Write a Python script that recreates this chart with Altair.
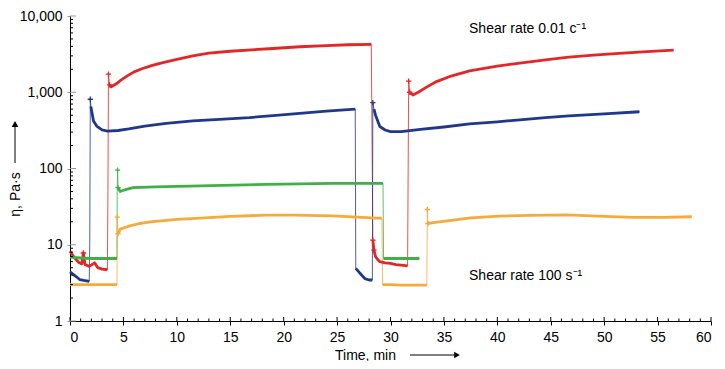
import altair as alt
import pandas as pd

# ---------------- data ----------------
# red series
red_low1_t = [0, 0.4, 0.8, 1.1, 1.25, 1.4, 1.8, 2.3, 2.6, 3.0, 3.5]
red_low1_v = [8.2, 6.8, 5.9, 5.6, 7.8, 5.5, 5.2, 5.8, 5.0, 4.8, 4.7]
red_jump1_t = [3.55, 3.6]
red_jump1_v = [50, 1730]
red_high1_t = [3.7, 3.85, 4.3, 4.8, 5.4, 6, 6.8, 7.7, 8.7, 10, 11.5, 13, 15, 17, 19, 21.5, 24, 26, 28.2]
red_high1_v = [1250, 1180, 1280, 1450, 1650, 1850, 2050, 2250, 2450, 2700, 3000, 3250, 3450, 3600, 3750, 3950, 4100, 4200, 4250]
red_low2_t = [28.35, 28.45, 28.6, 28.8, 29, 29.5, 30, 30.5, 31, 31.6]
red_low2_v = [11.5, 8.5, 7.0, 6.4, 6.0, 5.8, 5.7, 5.5, 5.4, 5.3]
red_jump2_t = [31.7]
red_jump2_v = [1400]
red_high2_t = [31.8, 32.1, 32.6, 33.3, 34.3, 35.5, 37.4, 40, 42.1, 44.5, 46.7, 49, 51.4, 54, 56.5]
red_high2_v = [1000, 920, 1000, 1150, 1380, 1600, 1910, 2200, 2410, 2650, 2880, 3060, 3240, 3420, 3570]

# blue series
blue_low1_t = [0, 0.3, 0.6, 0.9, 1.3, 1.8]
blue_low1_v = [4.4, 4.1, 3.8, 3.5, 3.4, 3.3]
blue_jump1_t = [1.85, 1.9]
blue_jump1_v = [10, 810]
blue_high1_t = [1.95, 2.2, 2.5, 3.0, 3.5, 4.5, 5.5, 7, 9, 11.5, 14, 16.8, 19, 21.5, 24, 26.7]
blue_high1_v = [650, 420, 360, 320, 310, 315, 330, 360, 390, 420, 440, 465, 495, 530, 565, 600]
blue_low2_t = [26.75, 27.1, 27.6, 28.0, 28.3]
blue_low2_v = [4.9, 4.3, 3.6, 3.45, 3.45]
blue_jump2_t = [28.35]
blue_jump2_v = [730]
blue_high2_t = [28.45, 28.6, 29, 29.5, 30, 31, 32.8, 35, 37.4, 40, 42.1, 44.5, 46.7, 50, 53.3]
blue_high2_v = [600, 500, 355, 320, 305, 305, 325, 350, 385, 410, 435, 465, 490, 520, 555]

# green series
green_low1_t = [0, 1, 2, 3, 4.4]
green_low1_v = [6.9, 6.7, 6.6, 6.6, 6.6]
green_jump1_t = [4.42, 4.45]
green_jump1_v = [50, 95]
green_high1_t = [4.5, 4.7, 5.2, 5.9, 8, 12.2, 18.4, 24.6, 29.3]
green_high1_v = [56, 50, 53, 56, 57.5, 59, 62, 64, 64]
green_low2_t = [29.35, 30, 31, 32, 32.7]
green_low2_v = [6.6, 6.6, 6.6, 6.6, 6.6]

# orange series
orange_low1_t = [0, 1, 2, 3, 4.4]
orange_low1_v = [3.0, 3.0, 3.0, 3.0, 3.0]
orange_jump1_t = [4.42]
orange_jump1_v = [23]
orange_high1_t = [4.5, 4.7, 5.5, 6.5, 7.5, 10, 12.2, 15, 18.4, 21, 24.6, 28.7, 29.2]
orange_high1_v = [14, 16, 17.5, 19, 20, 21.5, 22.3, 23.5, 24.5, 24.5, 23.9, 22.3, 22.3]
orange_low2_t = [29.25, 30, 31, 32, 33.4]
orange_low2_v = [3.0, 3.0, 2.95, 2.95, 2.95]
orange_jump2_t = [33.45]
orange_jump2_v = [29]
orange_high2_t = [33.5, 34, 35.5, 37.5, 40.2, 43, 46.5, 50, 52.7, 55.5, 58.2]
orange_high2_v = [19, 19.5, 20.7, 22.5, 23.8, 24.3, 24.6, 23.6, 22.9, 22.8, 23.3]

# "+" markers at the jump points
mark_t = [1.25, 3.6, 3.7, 1.9, 4.45, 4.5, 4.42, 4.5, 28.35, 28.35, 28.45, 31.7, 31.8, 33.45, 33.5]
mark_v = [7.8, 1730, 1250, 810, 95, 56, 23, 14, 730, 11.5, 8.5, 1400, 1000, 29, 19]
mark_s = ["red", "red", "red", "blue", "green", "green", "orange", "orange",
          "blue", "red", "red", "red", "red", "orange", "orange"]

notes_t = [37.35, 37.35]
notes_v = [6760, 3.89]
notes_text = ["Shear rate 0.01 c⁻¹", "Shear rate 100 s⁻¹"]

x_major = list(range(0, 61, 5))
x_minor = [i for i in range(61) if i % 5]
y_major = [1, 10, 100, 1000, 10000]
y_minor = [d * k for d in [1, 10, 100, 1000] for k in range(2, 10)]

series_names = ["red", "blue", "green", "orange"]
series_colors = ["#e32626", "#20388c", "#3eb048", "#f7aa3c"]

pieces = {
    "red": [(red_low1_t, red_low1_v, True), (red_jump1_t, red_jump1_v, False),
            (red_high1_t, red_high1_v, True), (red_low2_t, red_low2_v, True),
            (red_jump2_t, red_jump2_v, False), (red_high2_t, red_high2_v, True)],
    "blue": [(blue_low1_t, blue_low1_v, True), (blue_jump1_t, blue_jump1_v, False),
             (blue_high1_t, blue_high1_v, True), (blue_low2_t, blue_low2_v, True),
             (blue_jump2_t, blue_jump2_v, False), (blue_high2_t, blue_high2_v, True)],
    "green": [(green_low1_t, green_low1_v, True), (green_jump1_t, green_jump1_v, False),
              (green_high1_t, green_high1_v, True), (green_low2_t, green_low2_v, True)],
    "orange": [(orange_low1_t, orange_low1_v, True), (orange_jump1_t, orange_jump1_v, False),
               (orange_high1_t, orange_high1_v, True), (orange_low2_t, orange_low2_v, True),
               (orange_jump2_t, orange_jump2_v, False), (orange_high2_t, orange_high2_v, True)],
}

rows = []
idx = 0
for name in series_names:
    for k, (ts, vs, thick) in enumerate(pieces[name]):
        for t, v in zip(ts, vs):
            rows.append(dict(series=name, seg=f"{name}{k}", thick=thick, t=t, v=v, idx=idx))
            idx += 1
df = pd.DataFrame(rows)
df_thick = df[df.thick]
df_marks = pd.DataFrame(dict(t=mark_t, v=mark_v, series=mark_s))
df_notes = pd.DataFrame(dict(t=notes_t, v=notes_v, text=notes_text))

# ---------------- chart ----------------
W, H = 641, 305
FONT = "Liberation Sans"
xs = alt.Scale(domain=[0, 60], nice=False, zero=False)
ys = alt.Scale(type="log", domain=[1, 10000], nice=False)
cs = alt.Scale(domain=series_names, range=series_colors)

x_axis = alt.Axis(values=x_major, format="d", title="Time, min", grid=False,
                  tickSize=4, tickColor="black", domainColor="black",
                  labelFont=FONT, labelFontSize=14, labelColor="black", labelPadding=5,
                  titleFont=FONT, titleFontSize=14, titleFontWeight="normal", titleColor="black",
                  titleX=295, titleY=34, titleAlign="center", titleBaseline="middle")
y_axis = alt.Axis(values=y_major, format=",", title="η, Pa·s", grid=False,
                  tickSize=3, tickColor="#999999", domainColor="black",
                  labelFont=FONT, labelFontSize=14, labelColor="black", labelPadding=5,
                  titleFont=FONT, titleFontSize=14, titleFontWeight="normal", titleColor="black",
                  titleX=-55, titleY=178, titleAngle=-90, titleAlign="center", titleBaseline="middle")

X = alt.X("t:Q", scale=xs, axis=x_axis)
Y = alt.Y("v:Q", scale=ys, axis=y_axis)

thin = alt.Chart(df).mark_line(strokeWidth=1, opacity=0.8).encode(
    x=X, y=Y,
    color=alt.Color("series:N", scale=cs, legend=None),
    detail="series:N",
    order=alt.Order("idx:Q"),
)
thick = alt.Chart(df_thick).mark_line(strokeWidth=2.8, strokeJoin="round").encode(
    x=X, y=Y,
    color=alt.Color("series:N", scale=cs, legend=None),
    detail="seg:N",
    order=alt.Order("idx:Q"),
)
plus = alt.Chart(df_marks).mark_point(shape="M-1,0L1,0M0,-1L0,1", filled=False,
                                      size=28, strokeWidth=1.3, opacity=1).encode(
    x=X, y=Y,
    color=alt.Color("series:N", scale=cs, legend=None),
)

xt_major = alt.Chart(pd.DataFrame({"t": x_major})).mark_rule(color="black", strokeWidth=1).encode(
    x=X, y=alt.value(H), y2=alt.value(H - 4))
xt_minor = alt.Chart(pd.DataFrame({"t": x_minor})).mark_rule(color="black", strokeWidth=1).encode(
    x=X, y=alt.value(H), y2=alt.value(H - 2.5))
yt_major = alt.Chart(pd.DataFrame({"v": y_major})).mark_rule(color="#999999", strokeWidth=1).encode(
    y=Y, x=alt.value(0), x2=alt.value(6))
yt_minor = alt.Chart(pd.DataFrame({"v": y_minor})).mark_rule(color="black", strokeWidth=1).encode(
    y=Y, x=alt.value(0), x2=alt.value(3))

notes = alt.Chart(df_notes).mark_text(align="left", baseline="middle", font=FONT,
                                      fontSize=14, color="black").encode(
    x=X, y=Y, text="text:N",
)

one = pd.DataFrame({"a": [0]})
x_arrow_line = alt.Chart(one).mark_rule(color="black", strokeWidth=1).encode(
    x=alt.value(340), x2=alt.value(384), y=alt.value(339))
x_arrow_head = alt.Chart(one).mark_point(shape="triangle-right", filled=True, size=45,
                                         color="black", opacity=1).encode(
    x=alt.value(387), y=alt.value(339))
y_arrow_line = alt.Chart(one).mark_rule(color="black", strokeWidth=1).encode(
    x=alt.value(-55), y=alt.value(147), y2=alt.value(111))
y_arrow_head = alt.Chart(one).mark_point(shape="triangle-up", filled=True, size=45,
                                         color="black", opacity=1).encode(
    x=alt.value(-55), y=alt.value(108))

chart = alt.layer(
    thin, thick, plus, xt_major, xt_minor, yt_major, yt_minor, notes,
    x_arrow_line, x_arrow_head, y_arrow_line, y_arrow_head,
).properties(
    width=W, height=H,
    autosize=alt.AutoSizeParams(type="none"),
    padding={"left": 62, "top": 8, "right": 6, "bottom": 40},
    background="white",
).configure_view(stroke=None)

chart.save("out.html", embed_options={"renderer": "svg", "actions": False})
